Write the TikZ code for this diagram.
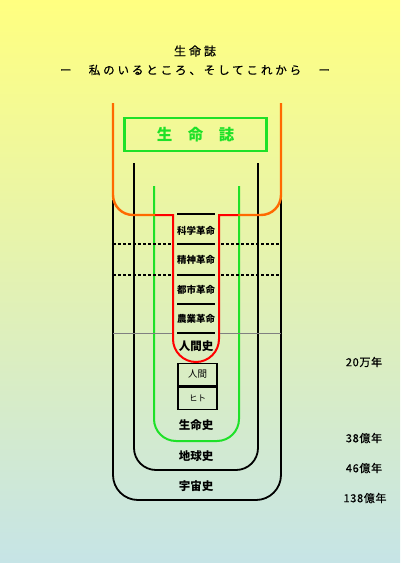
\documentclass[tikz,border=0pt]{standalone}
\usepackage{fontspec}
\usetikzlibrary{positioning}
\newfontfamily\jp{Noto Sans CJK JP}
\newfontfamily\jpwide{Noto Sans CJK JP}[LetterSpace=25, FakeBold=0.6]
\newfontfamily\jpmed{Noto Sans CJK JP}[LetterSpace=6, FakeBold=0.6]
\definecolor{bgtop}{RGB}{255,255,128}
\definecolor{bgbot}{RGB}{198,228,230}
\definecolor{lifegreen}{RGB}{30,225,40}
\definecolor{ageorange}{RGB}{255,105,0}
\begin{document}
\begin{tikzpicture}[
  x=1pt, y=-1pt,
  titlelbl/.style={font={\jpwide\fontsize{12}{14}\selectfont}, inner sep=0pt},
  revlbl/.style={font={\jp\bfseries\fontsize{9.5}{11}\selectfont}, inner sep=0pt},
  histlbl/.style={font={\jp\bfseries\fontsize{11.5}{13}\selectfont}, inner sep=0pt},
  agelbl/.style={font={\jpmed\fontsize{11}{13}\selectfont}, inner sep=0pt},
  humanbox/.style={draw=black, line width=1.2pt, minimum width=39pt, minimum height=22.5pt, inner sep=0pt},
  blackline/.style={draw=black, line width=1.8pt},
  greenline/.style={draw=lifegreen, line width=2pt},
  redline/.style={draw=red, line width=2pt},
  orangeline/.style={draw=ageorange, line width=2.4pt}
]
\shade[top color=bgtop, bottom color=bgbot] (0,0) rectangle (400,563);
\useasboundingbox (0,0) rectangle (400,563);
% titles
\node[titlelbl] (title) at (195,51) {生命誌};
\node[titlelbl, font={\jpwide\fontsize{11.5}{14}\selectfont}] (subtitle) at (195,70) {ー　私のいるところ、そしてこれから　ー};
\node[draw=lifegreen, line width=2.5pt, minimum width=142pt, minimum height=33pt, text=lifegreen,
  font={\jp\bfseries\fontsize{15.5}{18}\selectfont}] (seimeishi) at (195.5,134.5) {生　命　誌};
% nested histories
\draw[blackline, rounded corners=25] (113,200) -- (113,500) -- (281,500) -- (281,197);
\draw[blackline, rounded corners=22] (134,163) -- (134,470) -- (258,470) -- (258,163);
\draw[greenline, rounded corners=22] (154,186) -- (154,441) -- (239,441) -- (239,186);
\draw[orangeline, rounded corners=20] (113,103) -- (113,215) -- (155,215);
\draw[orangeline, rounded corners=20] (238,215) -- (281,215) -- (281,103);
\draw[redline] (155,215) -- (173,215) -- (173,339) arc (180:0:23) -- (219,215) -- (238,215);
% revolutions
\foreach \y in {214,244,275,304,333}
  \draw[black, line width=1.2pt] (177,\y) -- (215,\y);
\foreach \y in {244,275} {
  \draw[black, line width=1.1pt, dash pattern=on 3pt off 2pt] (113,\y) -- (171,\y);
  \draw[black, line width=1.1pt, dash pattern=on 3pt off 2pt] (221,\y) -- (281,\y);
}
\draw[gray, line width=0.8pt] (113,333) -- (172,333);
\draw[gray, line width=0.8pt] (220,333) -- (281,333);
\node[revlbl] (kagaku) at (196,231) {科学革命};
\node[revlbl] (seishin) at (196,259.5) {精神革命};
\node[revlbl] (toshi) at (196,290) {都市革命};
\node[revlbl] (nougyou) at (196,318.5) {農業革命};
\node[histlbl] (ningenshi) at (196,346) {人間史};
\node[humanbox, font={\jp\fontsize{9.5}{11}\selectfont}] (ningen) at (197.5,374.5) {人間};
\node[humanbox, font={\jp\fontsize{8.5}{10}\selectfont}, below=0pt of ningen] (hito) {ヒト};
\node[histlbl] (seimei) at (196,425) {生命史};
\node[histlbl] (chikyu) at (196,456) {地球史};
\node[histlbl] (uchu) at (196,486) {宇宙史};
% ages
\node[agelbl] (age20) at (364,362) {20万年};
\node[agelbl] (age38) at (364,438) {38億年};
\node[agelbl] (age46) at (364,468) {46億年};
\node[agelbl] (age138) at (365,498) {138億年};
\end{tikzpicture}
\end{document}
